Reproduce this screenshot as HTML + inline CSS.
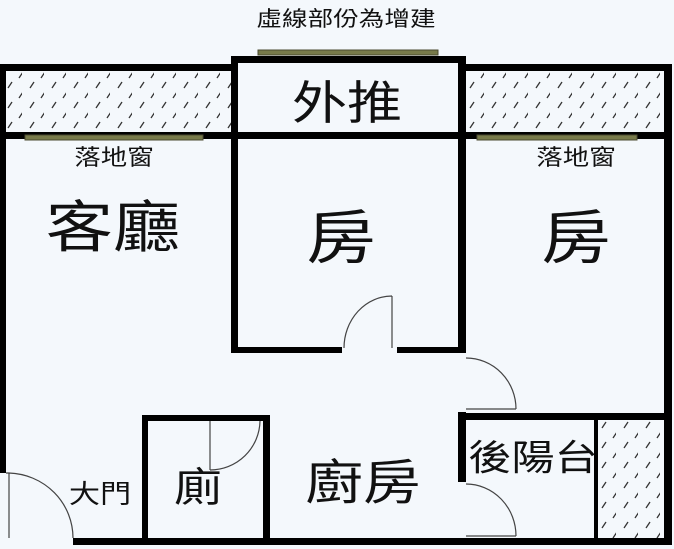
<!DOCTYPE html>
<html><head><meta charset="utf-8"><style>
html,body{margin:0;padding:0;background:#f4f8fc;}
svg{display:block}
text{font-family:"Liberation Sans","Noto Sans CJK TC",sans-serif;fill:#111;text-anchor:middle}
</style></head><body>
<svg width="674" height="549" viewBox="0 0 674 549" xmlns="http://www.w3.org/2000/svg">
<defs>
<pattern id="h" width="22" height="20" patternUnits="userSpaceOnUse">
<line x1="8" y1="8" x2="12" y2="2" stroke="#333" stroke-width="1.3"/>
<line x1="19" y1="18" x2="23" y2="12" stroke="#333" stroke-width="1.3"/>
</pattern>
</defs>
<rect width="674" height="549" fill="#f4f8fc"/>
<text transform="translate(346,26) scale(1.22,1)" font-size="21">虛線部份為增建</text>
<rect x="6" y="71" width="226" height="61" fill="url(#h)"/>
<rect x="466" y="71" width="198" height="61" fill="url(#h)"/>
<rect x="600" y="420" width="64" height="118" fill="url(#h)"/>
<g fill="#000">
<rect x="0" y="64" width="232" height="7"/>
<rect x="466" y="64" width="206" height="7"/>
<rect x="232" y="56" width="234" height="7"/>
<rect x="0" y="132" width="672" height="7"/>
<rect x="0" y="64" width="6" height="409"/>
<rect x="664" y="64" width="8" height="481"/>
<rect x="231" y="56" width="7" height="297"/>
<rect x="458" y="56" width="8" height="297"/>
<rect x="231" y="347" width="111" height="6"/>
<rect x="397" y="347" width="69" height="6"/>
<rect x="458" y="412" width="8" height="70"/>
<rect x="458" y="413" width="214" height="7"/>
<rect x="594" y="420" width="4" height="118"/>
<rect x="142" y="415" width="128" height="6"/>
<rect x="142" y="415" width="6" height="125"/>
<rect x="263" y="415" width="7" height="125"/>
<rect x="73" y="538" width="599" height="7"/>
</g>
<g fill="#777a4a" stroke="#4a4a30" stroke-width="1">
<rect x="258" y="50" width="180" height="5"/>
<rect x="25" y="135" width="178" height="5"/>
<rect x="477" y="135" width="160" height="5"/>
</g>
<g fill="none" stroke="#444" stroke-width="1.2">
<path d="M392 348 V296 M344 348 A48 52 0 0 1 392 296"/>
<path d="M466 409 H516 M466 358 A50 51 0 0 1 516 409"/>
<path d="M466 536 H516 M466 484 A50 52 0 0 1 516 536"/>
<path d="M210 421 V470 M260 421 A50 50 0 0 1 210 470"/>
<path d="M6 473 H9 V538 M9 473 A66 65 0 0 1 73 538"/>
</g>
<text transform="translate(347,119) scale(1.2,1)" font-size="46">外推</text>
<text transform="translate(114,165) scale(1.2,1)" font-size="22">落地窗</text>
<text transform="translate(576,165) scale(1.2,1)" font-size="22">落地窗</text>
<text transform="translate(113,247) scale(1.2,1)" font-size="56">客廳</text>
<text transform="translate(341,258) scale(1.2,1)" font-size="58">房</text>
<text transform="translate(576,258) scale(1.2,1)" font-size="58">房</text>
<text transform="translate(100,503) scale(1.2,1)" font-size="26">大門</text>
<text transform="translate(198,501) scale(1.2,1)" font-size="40">廁</text>
<text transform="translate(363,499) scale(1.2,1)" font-size="48">廚房</text>
<text transform="translate(533,470) scale(1.2,1)" font-size="36">後陽台</text>
</svg>
</body></html>
